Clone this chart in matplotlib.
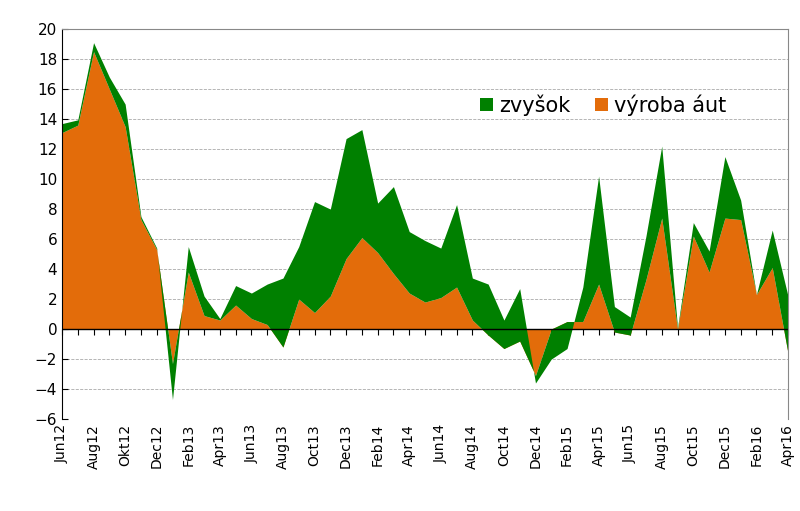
import matplotlib
matplotlib.use("Agg")
import matplotlib.pyplot as plt
import numpy as np

# monthly, Jun12 .. Apr16
months = ["Jun12", "Jul12", "Aug12", "Sep12", "Okt12", "Nov12", "Dec12", "Jan13", "Feb13", "Mar13",
          "Apr13", "May13", "Jun13", "Jul13", "Aug13", "Sep13", "Oct13", "Nov13", "Dec13", "Jan14",
          "Feb14", "Mar14", "Apr14", "May14", "Jun14", "Jul14", "Aug14", "Sep14", "Oct14", "Nov14",
          "Dec14", "Jan15", "Feb15", "Mar15", "Apr15", "May15", "Jun15", "Jul15", "Aug15", "Sep15",
          "Oct15", "Nov15", "Dec15", "Jan16", "Feb16", "Mar16", "Apr16"]
# total (top of green area)
total = [13.7, 13.95, 19.1, 16.8, 15.0, 7.5, 5.4, -4.7, 5.5, 2.2,
         0.7, 2.9, 2.4, 3.0, 3.4, 5.5, 8.5, 8.0, 12.7, 13.3,
         8.4, 9.5, 6.5, 5.9, 5.4, 8.3, 3.4, 3.0, 0.6, 2.7,
         -3.6, -2.0, -1.3, 2.8, 10.2, 1.5, 0.8, 6.2, 12.2, 0.1,
         7.1, 5.2, 11.5, 8.6, 2.3, 6.6, 2.2]
# car production contribution
cars = [13.1, 13.6, 18.5, 16.0, 13.5, 7.3, 5.3, -2.3, 3.8, 0.9,
        0.6, 1.6, 0.7, 0.3, -1.2, 2.0, 1.1, 2.2, 4.7, 6.1,
        5.1, 3.7, 2.4, 1.8, 2.1, 2.8, 0.6, -0.4, -1.3, -0.8,
        -3.1, 0.0, 0.5, 0.5, 3.0, -0.2, -0.4, 3.3, 7.4, 0.0,
        6.2, 3.8, 7.4, 7.3, 2.3, 4.1, -1.6]

GREEN = "#008000"
ORANGE = "#E36C0A"

x = np.arange(len(months))
fig = plt.figure(figsize=(8.0, 5.11), dpi=100)
ax = fig.add_axes([0.0775, 0.180, 0.9075, 0.763])

ax.fill_between(x, 0, cars, color=ORANGE, lw=0, label="výroba áut")
ax.fill_between(x, cars, total, color=GREEN, lw=0, label="zvyšok")

ax.set_xlim(0, len(months) - 1)
ax.set_ylim(-6, 20)
ax.set_yticks(range(-6, 21, 2))
ax.yaxis.grid(True, color="#aaaaaa", ls="--", lw=0.6)
ax.set_axisbelow(True)
ax.tick_params(axis="y", labelsize=11, direction="in", length=4)
for s in ("top", "right", "bottom"):
    ax.spines[s].set_color("#888888")
ax.spines["bottom"].set_visible(False)

ax.set_xticks(x[::2])
ax.set_xticklabels(months[::2], rotation=90, fontsize=10)
ax.tick_params(axis="x", length=0)

# zero line with monthly tick marks
ax.axhline(0, color="black", lw=1)
sec = ax.secondary_xaxis(6 / 26)
sec.set_xticks(x)
sec.tick_params(axis="x", direction="out", length=4, labelbottom=False, labeltop=False)
sec.spines["bottom"].set_visible(False)

h, l = ax.get_legend_handles_labels()
ax.legend(h[::-1], l[::-1], loc="upper left", bbox_to_anchor=(0.55, 0.88), ncol=2, frameon=False,
          fontsize=15, handlelength=0.6, handleheight=0.6, handletextpad=0.3, columnspacing=1.2)

fig.savefig("out.png", dpi=100)
